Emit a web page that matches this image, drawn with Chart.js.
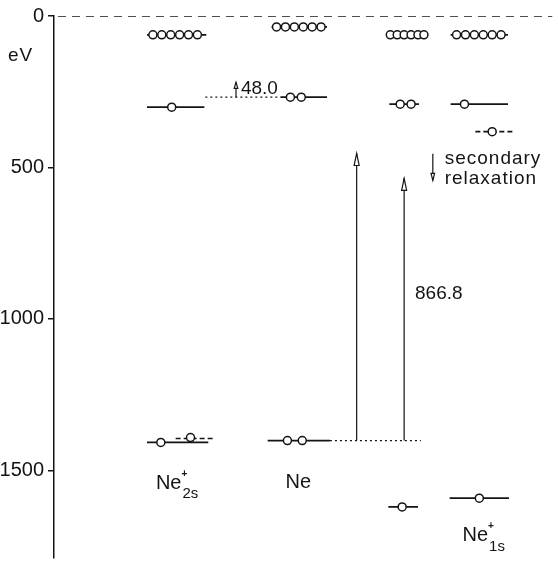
<!DOCTYPE html>
<html>
<head>
<meta charset="utf-8">
<script src="https://cdn.jsdelivr.net/npm/chart.js@4/dist/chart.umd.min.js"></script>
<style>
  html, body { margin: 0; padding: 0; background: #fff; }
  #wrap { width: 558px; height: 563px; }
</style>
</head>
<body>
<div id="wrap"><canvas id="c" width="558" height="563"></canvas></div>
<script>
// energy axis (eV, drawn downward)
const yTicks = [0, 500, 1000, 1500];
const yMax = 1788;
const xMax = 504;

// levels: energy, start, end, style
const levelE     = [62, 301, 1408, 1395, 36, 268, 1402, 268, 1402, 62, 291, 1621, 62, 291, 382, 1592, 0];
const levelStart = [94, 94, 94, 123, 220, 229, 216, 153, 279, 336, 339, 338, 401, 401, 426, 400, 4];
const levelEnd   = [154, 152, 156, 161, 276, 276, 279, 229, 371, 378, 369, 368, 459, 459, 464, 460, 504];
const levelStyle = ['solid','solid','solid','dash','solid','solid','solid','dot','dot','solid','solid','solid','solid','solid','dash','solid','zero'];

// electrons (open circles)
const electronX = [100,109,118,127,136,145, 119, 108, 138,
                   225,234,243,252,261,270, 239,250, 236,251,
                   340,347,354,361,368,374, 350,361, 352,
                   407,416,425,434,443,452, 415, 443, 430];
const electronE = [62,62,62,62,62,62, 301, 1408, 1392,
                   36,36,36,36,36,36, 268,268, 1402,1402,
                   62,62,62,62,62,62, 291,291, 1621,
                   62,62,62,62,62,62, 291, 382, 1592];

// excitation arrows
const arrowX    = [306, 354];
const arrowFrom = [1402, 1402];
const arrowTo   = [454, 536];

// text labels
const noteText = ['48.0', '866.8', 'secondary', 'relaxation'];
const noteX    = [189, 365, 395, 395];
const noteE    = [239, 918, 471, 536];

const stateName = ['Ne', 'Ne', 'Ne'];
const stateSub  = ['2s', '', '1s'];
const stateSup  = ['+', '', '+'];
const stateX    = [103, 234, 413];
const stateE    = [1542, 1539, 1716];

const ink = '#141414';
const font = '"Liberation Sans", Arial, sans-serif';
const dashes = { solid: [], dash: [5, 3], dot: [2, 3], zero: [8, 6] };

const levelSets = levelE.map((e, i) => ({
  type: 'line',
  data: [{x: levelStart[i], y: e}, {x: levelEnd[i], y: e}],
  borderColor: ink,
  borderWidth: levelStyle[i] === 'dot' ? 1.3 : 1.7,
  borderDash: dashes[levelStyle[i]],
  pointRadius: 0,
  order: 2
}));

const arrowSets = arrowX.map((x, i) => ({
  type: 'line',
  data: [{x: x, y: arrowFrom[i]}, {x: x, y: arrowTo[i]}],
  borderColor: ink,
  borderWidth: 1.2,
  pointRadius: 0,
  order: 2
}));

const electronSet = {
  type: 'scatter',
  data: electronX.map((x, i) => ({x: x, y: electronE[i]})),
  pointRadius: 4,
  pointBackgroundColor: '#fff',
  pointBorderColor: ink,
  pointBorderWidth: 1.5,
  order: 0
};

function head(ctx, x, y, dir, len, half){
  ctx.beginPath();
  ctx.moveTo(x, y);
  ctx.lineTo(x - half, y + dir*len);
  ctx.lineTo(x + half, y + dir*len);
  ctx.closePath();
  ctx.fillStyle = '#fff';
  ctx.fill();
  ctx.stroke();
}

const overlay = {
  id: 'overlay',
  afterDatasetsDraw(chart){
    const ctx = chart.ctx, xs = chart.scales.x, ys = chart.scales.y;
    ctx.save();
    ctx.strokeStyle = ink;
    ctx.lineWidth = 1.2;
    // arrow heads
    arrowX.forEach((x, i) => {
      head(ctx, xs.getPixelForValue(x), ys.getPixelForValue(arrowTo[i]), 1, 12, 2.5);
    });
    // small arrow next to 48.0
    let px = xs.getPixelForValue(184), t = ys.getPixelForValue(219), b = ys.getPixelForValue(268);
    ctx.beginPath(); ctx.moveTo(px, t); ctx.lineTo(px, b); ctx.stroke();
    head(ctx, px, t, 1, 6, 1.8);
    // secondary relaxation arrow
    px = xs.getPixelForValue(383); t = ys.getPixelForValue(455); b = ys.getPixelForValue(543);
    ctx.beginPath(); ctx.moveTo(px, t); ctx.lineTo(px, b); ctx.stroke();
    head(ctx, px, b, -1, 7, 1.8);

    ctx.fillStyle = ink;
    ctx.textBaseline = 'middle';
    ctx.textAlign = 'left';
    noteText.forEach((s, i) => {
      ctx.font = '19px ' + font;
      ctx.letterSpacing = i >= 2 ? '1px' : '0px';
      ctx.fillText(s, xs.getPixelForValue(noteX[i]), ys.getPixelForValue(noteE[i]));
    });
    ctx.letterSpacing = '0px';
    stateName.forEach((s, i) => {
      const x0 = xs.getPixelForValue(stateX[i]), y0 = ys.getPixelForValue(stateE[i]);
      ctx.font = '20px ' + font;
      ctx.fillText(s, x0, y0);
      const w = ctx.measureText(s).width;
      if (stateSub[i]) {
        ctx.font = '15px ' + font;
        ctx.fillText(stateSub[i], x0 + w + 1, y0 + 11);
      }
      if (stateSup[i]) {
        ctx.font = 'bold 10px ' + font;
        ctx.fillText(stateSup[i], x0 + w, y0 - 9);
      }
    });
    // axis unit
    ctx.font = '19px ' + font;
    ctx.letterSpacing = '1px';
    ctx.fillText('eV', 8, ys.getPixelForValue(131));
    ctx.restore();
  }
};

new Chart(document.getElementById('c'), {
  data: { datasets: [electronSet, ...levelSets, ...arrowSets] },
  options: {
    responsive: false,
    animation: false,
    layout: { padding: { top: 16, left: 0, right: 0, bottom: 0 } },
    plugins: { legend: { display: false }, tooltip: { enabled: false } },
    scales: {
      x: { type: 'linear', min: 0, max: xMax, display: false },
      y: {
        type: 'linear', reverse: true, min: 0, max: yMax,
        afterBuildTicks: s => { s.ticks = yTicks.map(v => ({value: v})); },
        afterFit: s => { s.width = 54; s.paddingTop = 0; s.paddingBottom = 0; },
        ticks: { color: ink, padding: 4, callback: v => String(v), font: { size: 20, family: font } },
        grid: { drawOnChartArea: false, tickLength: 6, color: ink, lineWidth: 1.5 },
        border: { display: true, color: ink, width: 1.5 }
      }
    }
  },
  plugins: [overlay]
});
</script>
</body>
</html>
